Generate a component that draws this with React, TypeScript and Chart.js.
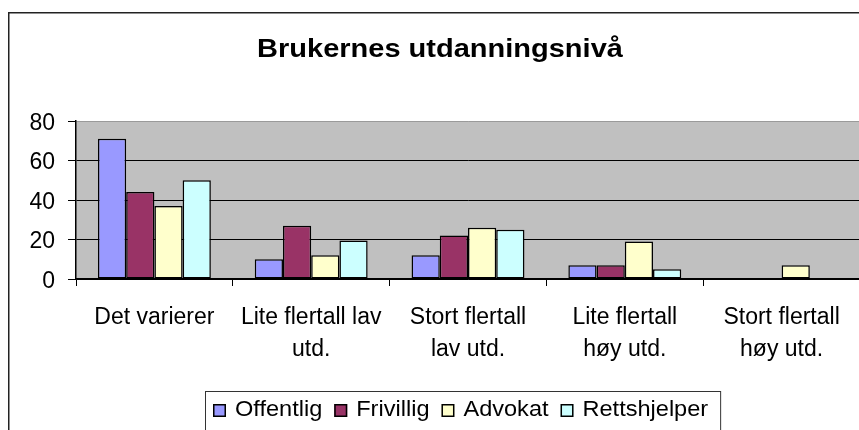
import React, { useEffect, useRef } from "react";
import { Chart, registerables } from "chart.js";

Chart.register(...registerables);

const TITLE = "Brukernes utdanningsnivå";
const categories: string[][] = [
  ["Det varierer"],
  ["Lite flertall lav", "utd."],
  ["Stort flertall", "lav utd."],
  ["Lite flertall", "høy utd."],
  ["Stort flertall", "høy utd."],
];
const seriesNames = ["Offentlig", "Frivillig", "Advokat", "Rettshjelper"];
const offentlig = [71, 10, 12, 7, 0];
const frivillig = [44, 27, 22, 7, 0];
const advokat = [37, 12, 26, 19, 7];
const rettshjelper = [50, 19.5, 25, 5, 0];
const seriesColors = ["#9999FF", "#993366", "#FFFFCC", "#CCFFFF"];
const yMin = 0;
const yMax = 80;
const yStep = 20;

const FONT = "Arial, 'Liberation Sans', sans-serif";
const W = 870;
const H = 450;

const decoPlugin = {
  id: "deco",
  beforeDraw(chart: any) {
    const { ctx, chartArea: a, width, height } = chart;
    ctx.save();
    ctx.fillStyle = "#ffffff";
    ctx.fillRect(0, 0, width, height);
    ctx.fillStyle = "#C0C0C0";
    ctx.fillRect(a.left, a.top, a.right - a.left, a.bottom - a.top);
    ctx.restore();
  },
  afterDraw(chart: any) {
    const { ctx, width, height } = chart;
    ctx.save();
    // outer frame
    ctx.strokeStyle = "#222";
    ctx.lineWidth = 1.5;
    ctx.strokeRect(8.75, 12.75, width + 20, height + 20);

    // title
    ctx.save();
    ctx.fillStyle = "#000";
    ctx.font = `bold 25px ${FONT}`;
    ctx.textAlign = "center";
    ctx.textBaseline = "alphabetic";
    ctx.translate(440, 57);
    ctx.scale(1.16, 1);
    ctx.fillText(TITLE, 0, 0);
    ctx.restore();

    // legend
    const sx = 1.07;
    ctx.font = `22px ${FONT}`;
    const boxLeft = 205;
    const boxTop = 391;
    let x = 213;
    const baseY = 416;
    const sq = 13;
    chart.data.datasets.forEach((ds: any, i: number) => {
      ctx.fillStyle = ds.backgroundColor;
      ctx.fillRect(x, baseY - sq + 1, sq, sq);
      ctx.strokeStyle = "#000";
      ctx.lineWidth = 1.5;
      ctx.strokeRect(x + 0.75, baseY - sq + 1.75, sq - 1.5, sq - 1.5);
      x += sq + 9;
      ctx.save();
      ctx.translate(x, baseY);
      ctx.scale(sx, 1);
      ctx.fillStyle = "#000";
      ctx.textAlign = "left";
      ctx.textBaseline = "alphabetic";
      ctx.fillText(ds.label, 0, 0);
      ctx.restore();
      x += ctx.measureText(ds.label).width * sx;
      if (i < chart.data.datasets.length - 1) x += 12;
    });
    const boxRight = x + 12;
    ctx.strokeStyle = "#333";
    ctx.lineWidth = 1;
    ctx.strokeRect(boxLeft + 0.5, boxTop + 0.5, boxRight - boxLeft, 60);
    ctx.restore();
  },
};

export default function App() {
  const ref = useRef<HTMLCanvasElement | null>(null);

  useEffect(() => {
    if (!ref.current) return;
    const values = [offentlig, frivillig, advokat, rettshjelper];
    const chart = new Chart(ref.current, {
      type: "bar",
      data: {
        labels: categories,
        datasets: seriesNames.map((name, i) => ({
          label: name,
          data: values[i],
          backgroundColor: seriesColors[i],
          borderColor: "#000",
          borderWidth: 1.5,
          borderSkipped: false,
          categoryPercentage: 0.72,
          barPercentage: 1,
        })),
      },
      options: {
        responsive: false,
        animation: false,
        devicePixelRatio: 1,
        layout: { padding: { left: 0, top: 121, right: W - 860, bottom: 0 } },
        plugins: {
          legend: { display: false },
          title: { display: false },
          tooltip: { enabled: false },
        },
        scales: {
          x: {
            afterFit(scale: any) {
              scale.height = H - 279;
            },
            grid: {
              offset: true,
              drawOnChartArea: false,
              drawTicks: true,
              tickLength: 7,
              tickColor: "#000",
              lineWidth: 1,
            },
            border: { display: true, color: "#000", width: 1.5 },
            ticks: {
              color: "#000",
              padding: 16,
              maxRotation: 0,
              minRotation: 0,
              autoSkip: false,
              font: { family: FONT, size: 23, lineHeight: 32 / 23 },
            },
          },
          y: {
            min: yMin,
            max: yMax,
            afterFit(scale: any) {
              scale.width = 76;
            },
            grid: {
              color: (c: any) => (c.tick && c.tick.value === yMax ? "#9a9a9a" : "#000"),
              tickColor: "#000",
              drawTicks: true,
              tickLength: 8,
              lineWidth: 1,
            },
            border: { display: true, color: "#000", width: 1.5 },
            ticks: {
              stepSize: yStep,
              color: "#000",
              padding: 13,
              labelOffset: 2.5,
              font: { family: FONT, size: 23 },
            },
          },
        },
      },
      plugins: [decoPlugin],
    } as any);
    return () => chart.destroy();
  }, []);

  return (
    <div
      style={{
        position: "fixed",
        left: 0,
        top: 0,
        width: 859,
        height: 430,
        overflow: "hidden",
        background: "#fff",
      }}
    >
      <canvas ref={ref} width={W} height={H} style={{ display: "block", width: W, height: H }} />
    </div>
  );
}
